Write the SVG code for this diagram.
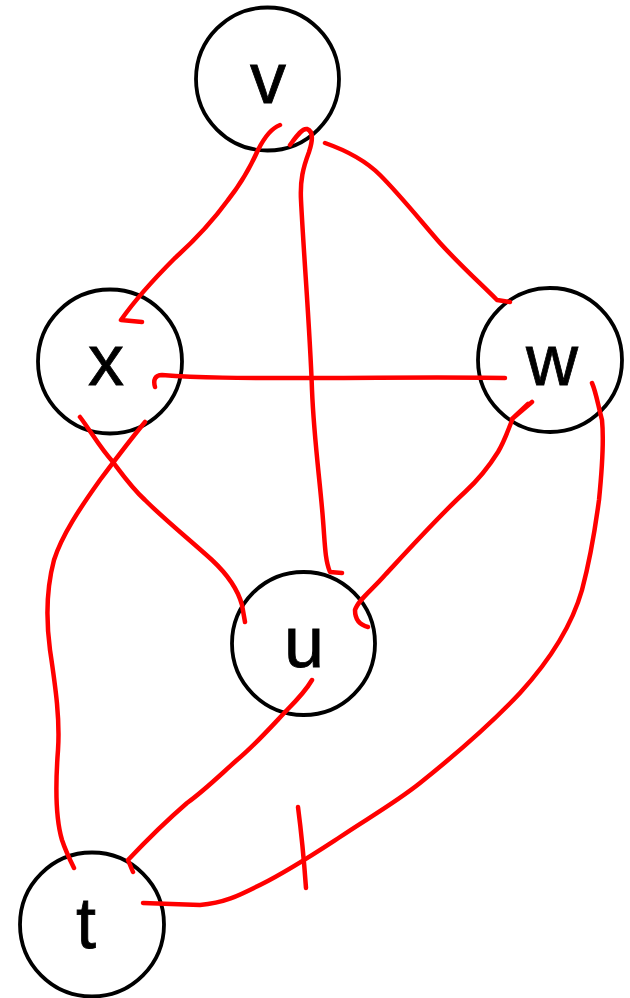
<svg xmlns="http://www.w3.org/2000/svg" width="630" height="998" viewBox="0 0 630 998">
<style>
.node circle{fill:#fff;stroke:#000;stroke-width:3.8}
.node text{font-family:"Liberation Sans",Arial,sans-serif;font-size:72px;fill:#000;stroke:#000;stroke-width:0.8;text-anchor:middle}
.edges path{fill:none;stroke:#f00;stroke-width:4.5;stroke-linecap:round;stroke-linejoin:round}
</style>
<rect width="630" height="998" fill="#fff"/>
<g id="node-v" class="node"><circle cx="267.5" cy="79" r="71.5"/><text x="268" y="103">v</text></g>
<g id="node-x" class="node"><circle cx="110" cy="361.5" r="72"/><text x="106" y="385">x</text></g>
<g id="node-w" class="node"><circle cx="550" cy="360" r="72"/><text x="552" y="385">w</text></g>
<g id="node-u" class="node"><circle cx="303.5" cy="643.5" r="71.5"/><text x="304" y="667">u</text></g>
<g id="node-t" class="node"><circle cx="92" cy="924.5" r="72"/><text x="86" y="948">t</text></g>
<g id="connectors" class="edges">
<path d="M280,125 C272,128 264,138 258,150 C250,168 240,185 228,200 C212,222 195,240 175,258 C158,275 135,300 121,320 L142,322"/>
<path d="M290,145 C296,137 302,128 307,129 C313,131 313,140 309,152 C303,168 300,180 301,200 C304,260 310,330 312,390 C314,440 320,480 323,520 C325,545 325,560 330,572 L342,573"/>
<path d="M325,143 C345,150 365,160 380,175 C400,195 420,220 440,243 C460,265 480,283 497,300 L510,302"/>
<path d="M155,387 C153,380 155,375 162,375 C200,378 240,378 300,378 C380,378 440,377 505,378"/>
<path d="M80,417 C90,430 100,448 113,462 C125,478 132,488 145,500 C165,520 190,540 212,560 C228,575 238,590 242,605 L245,622"/>
<path d="M145,422 C130,440 115,460 100,480 C80,508 62,535 54,560 C46,590 46,620 50,650 C56,690 60,720 58,750 C55,790 56,820 62,840 C66,852 70,860 74,868"/>
<path d="M532,402 L512,419 L528,404 M513,418 C508,430 505,440 498,452 C488,468 478,480 465,492 C440,515 410,548 385,575 C372,590 358,600 355,610 C355,620 360,625 368,627"/>
<path d="M592,383 C596,392 598,405 602,420 C604,440 602,470 599,500 C595,530 590,560 582,590 C572,625 550,660 520,693 C490,725 455,755 420,783 C395,803 365,820 340,837 C320,850 290,870 260,885 C240,895 225,903 200,905 L143,903"/>
<path d="M312,680 C305,692 295,702 287,710 C270,728 255,745 237,760 C220,775 205,790 187,803 C165,822 145,842 128,860 L133,872"/>
<path d="M298,807 C301,830 304,860 306,888"/>
</g>
</svg>
